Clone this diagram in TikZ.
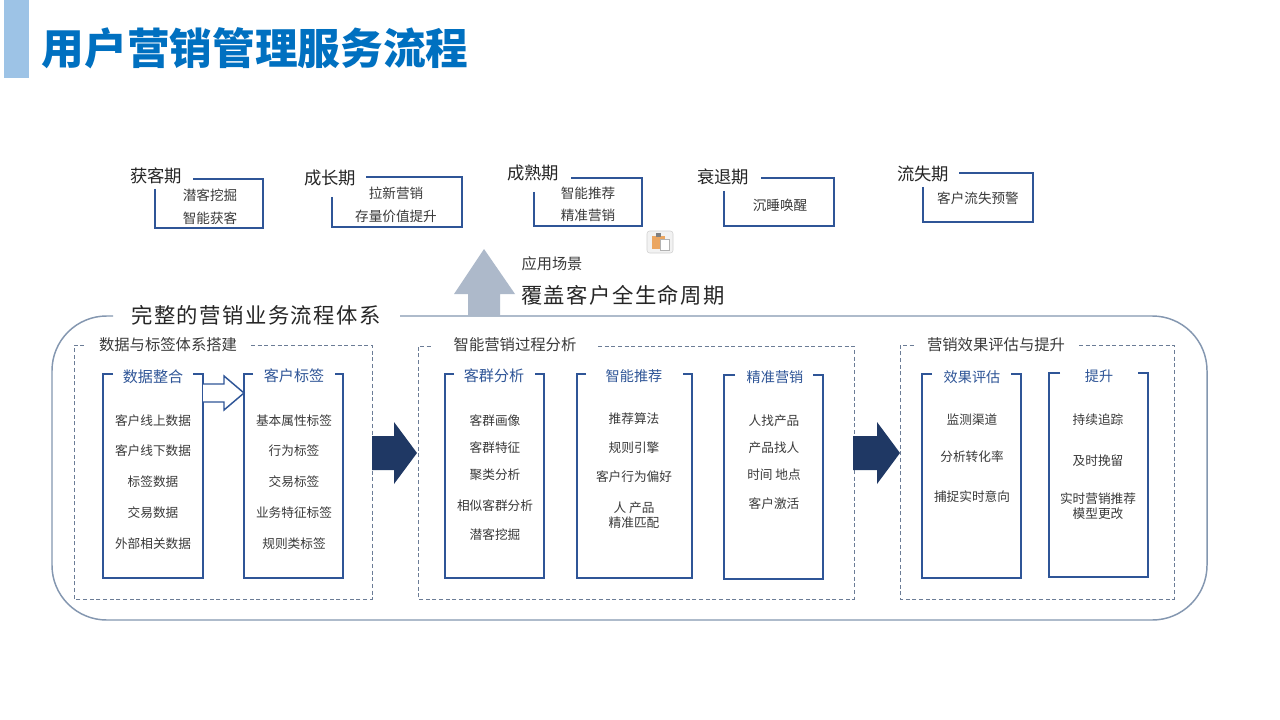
\documentclass[tikz,border=0pt]{standalone}
\usepackage{fontspec}
\setmainfont{Noto Sans CJK SC}
\newfontfamily\cjkwide[LetterSpace=7]{Noto Sans CJK SC}
\definecolor{titleblue}{HTML}{0070C0}
\definecolor{barblue}{HTML}{9DC3E6}
\definecolor{framecol}{HTML}{2F5597}
\definecolor{navy}{HTML}{1F3864}
\definecolor{steel}{HTML}{ADB9CA}
\definecolor{outer}{HTML}{8497B0}
\definecolor{dashcol}{HTML}{6B7C96}
\definecolor{ink}{HTML}{3A3A3A}
\tikzset{
  x=0.75pt,y=-0.75pt,
  bodytxt/.style={text=ink,inner sep=0pt,align=center,font=\fontsize{9.5}{11.2}\selectfont},
  toptxt/.style={text=ink,inner sep=0pt,align=center,font=\fontsize{10.2}{12}\selectfont},
  periodtxt/.style={text=black!85,inner sep=0pt,font=\fontsize{13}{15}\selectfont},
  headtxt/.style={text=framecol,inner sep=0pt,font=\fontsize{11.3}{13}\selectfont},
  headsmall/.style={text=framecol,inner sep=0pt,font=\fontsize{10.6}{13}\selectfont},
  grouptxt/.style={text=ink,inner sep=0pt,font=\fontsize{11.5}{13}\selectfont},
  bigtxt/.style={text=black!85,inner sep=0pt,font=\cjkwide\fontsize{16}{18}\selectfont},
  framepath/.style={draw=framecol,line width=1.5pt,line cap=butt,line join=miter},
  dashbox/.style={draw=dashcol,line width=0.6pt,dash pattern=on 3pt off 2pt},
}
% open frame: left x, right x, top y, bottom y, left stub end, right stub start
\newcommand{\innerframe}[6]{\draw[framepath] (#5,#3) -- (#1,#3) -- (#1,#4) -- (#2,#4) -- (#2,#3) -- (#6,#3);}
% period frame: left x, right x, top y, bottom y, left start y, top start x
\newcommand{\periodframe}[6]{\draw[framepath] (#1,#5) -- (#1,#4) -- (#2,#4) -- (#2,#3) -- (#6,#3);}
% dashed group: left, right, top, bottom, gap start, gap end
\newcommand{\dashgroup}[6]{\draw[dashbox] (#6,#3) -- (#2,#3) -- (#2,#4) -- (#1,#4) -- (#1,#3) -- (#5,#3);}
\begin{document}
\begin{tikzpicture}
\useasboundingbox (0,0) rectangle (1280,720);
\fill[white] (0,0) rectangle (1280,720);
% title
\fill[barblue] (4,0) rectangle (29,78);
\node[text=titleblue,inner sep=0pt,font=\bfseries\fontsize{32}{38}\selectfont] (title) at (255,48) {用户营销管理服务流程};
% lifecycle periods
\periodframe{155}{263}{179}{228}{189}{193}
\periodframe{332}{462}{177}{227}{197}{366}
\periodframe{534}{642}{178}{226}{192}{571}
\periodframe{724}{834}{178}{226}{191}{761}
\periodframe{923}{1033}{173}{222}{187}{959}
\node[periodtxt] (p1) at (156,176) {获客期};
\node[periodtxt] (p2) at (330,178) {成长期};
\node[periodtxt] (p3) at (533,173) {成熟期};
\node[periodtxt] (p4) at (723,177) {衰退期};
\node[periodtxt] (p5) at (923,174) {流失期};
\node[toptxt] (p1a) at (210,195) {潜客挖掘};
\node[toptxt] (p1b) at (210,218) {智能获客};
\node[toptxt] (p2a) at (396,193) {拉新营销};
\node[toptxt] (p2b) at (396,216) {存量价值提升};
\node[toptxt] (p3a) at (588,193) {智能推荐};
\node[toptxt] (p3b) at (588,215) {精准营销};
\node[toptxt] (p4a) at (780,205) {沉睡唤醒};
\node[toptxt] (p5a) at (978,198) {客户流失预警};
% clipboard icon
\draw[draw=black!18,fill=black!5,rounded corners=2pt] (647,231) rectangle (673,253);
\fill[fill=orange!55!brown!70] (652,236) rectangle (665,249);
\fill[black!50] (656,233) rectangle (661,237);
\draw[draw=black!30,fill=white] (660,239) rectangle (669,250);
% up arrow
\fill[steel] (484,249) -- (515,294) -- (500,294) -- (500,315) -- (468,315) -- (468,294) -- (454,294) -- cycle;
\node[toptxt,font=\fontsize{11.4}{13}\selectfont] (app) at (552,264) {应用场景};
\node[bigtxt] (cover) at (623,295) {覆盖客户全生命周期};
% outer frame
\draw[draw=outer,line width=1.1pt,rounded corners=41pt] (400,316) -- (1207,316) -- (1207,620) -- (52,620) -- (52,316) -- (113,316);
\node[bigtxt] (outerlabel) at (256,315) {完整的营销业务流程体系};
% dashed groups
\dashgroup{74}{372}{345}{599}{85}{251}
\dashgroup{418}{854}{346}{599}{432}{598}
\dashgroup{900}{1174}{345}{599}{915}{1079}
\node[grouptxt] (g1) at (168,345) {数据与标签体系搭建};
\node[grouptxt] (g2) at (515,345) {智能营销过程分析};
\node[grouptxt] (g3) at (996,345) {营销效果评估与提升};
% inner frames
\innerframe{103}{203}{374}{578}{113}{193}
\innerframe{244}{343}{374}{578}{253}{335}
\innerframe{445}{544}{374}{578}{454}{535}
\innerframe{577}{692}{374}{578}{586}{683}
\innerframe{724}{823}{375}{579}{735}{813}
\innerframe{922}{1021}{374}{578}{932}{1011}
\innerframe{1049}{1148}{373}{577}{1060}{1138}
\node[headtxt] (h1) at (153,377) {数据整合};
\node[headtxt] (h2) at (294,376) {客户标签};
\node[headtxt] (h3) at (494,376) {客群分析};
\node[headsmall] (h4) at (634,376) {智能推荐};
\node[headsmall] (h5) at (775,377) {精准营销};
\node[headsmall] (h6) at (972,377) {效果评估};
\node[headsmall] (h7) at (1099,376) {提升};
% hollow arrow
\draw[draw=framecol,line width=1.1pt,fill=white,line join=miter] (203,384) -- (224,384) -- (224,376) -- (244,393) -- (224,410) -- (224,402) -- (203,402);
% solid arrows
\fill[navy] (372,436) -- (394,436) -- (394,422) -- (417,453) -- (394,484) -- (394,470) -- (372,470) -- cycle;
\fill[navy] (853,436) -- (877,436) -- (877,422) -- (900,453) -- (877,484) -- (877,470) -- (853,470) -- cycle;
% column 1
\node[bodytxt] (a1) at (153,421) {客户线上数据};
\node[bodytxt] (a2) at (153,451) {客户线下数据};
\node[bodytxt] (a3) at (153,482) {标签数据};
\node[bodytxt] (a4) at (153,513) {交易数据};
\node[bodytxt] (a5) at (153,544) {外部相关数据};
% column 2
\node[bodytxt] (b1) at (294,421) {基本属性标签};
\node[bodytxt] (b2) at (294,451) {行为标签};
\node[bodytxt] (b3) at (294,482) {交易标签};
\node[bodytxt] (b4) at (294,513) {业务特征标签};
\node[bodytxt] (b5) at (294,544) {规则类标签};
% column 3
\node[bodytxt] (c1) at (495,421) {客群画像};
\node[bodytxt] (c2) at (495,448) {客群特征};
\node[bodytxt] (c3) at (495,475) {聚类分析};
\node[bodytxt] (c4) at (495,506) {相似客群分析};
\node[bodytxt] (c5) at (495,535) {潜客挖掘};
% column 4
\node[bodytxt] (d1) at (634,419) {推荐算法};
\node[bodytxt] (d2) at (634,448) {规则引擎};
\node[bodytxt] (d3) at (634,477) {客户行为偏好};
\node[bodytxt] (d4) at (634,515) {人 产品\\精准匹配};
% column 5
\node[bodytxt] (e1) at (774,421) {人找产品};
\node[bodytxt] (e2) at (774,448) {产品找人};
\node[bodytxt] (e3) at (774,475) {时间 地点};
\node[bodytxt] (e4) at (774,504) {客户激活};
% column 6
\node[bodytxt] (f1) at (972,420) {监测渠道};
\node[bodytxt] (f2) at (972,457) {分析转化率};
\node[bodytxt] (f3) at (972,497) {捕捉实时意向};
% column 7
\node[bodytxt] (k1) at (1098,420) {持续追踪};
\node[bodytxt] (k2) at (1098,461) {及时挽留};
\node[bodytxt] (k3) at (1098,506) {实时营销推荐\\模型更改};
\end{tikzpicture}
\end{document}
